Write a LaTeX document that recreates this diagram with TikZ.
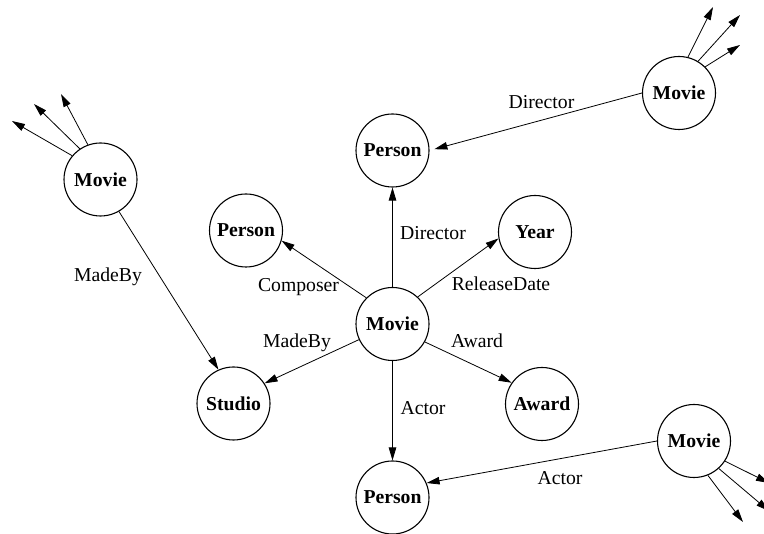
\documentclass[tikz,border=0pt]{standalone}
\usepackage{fontspec}
\setmainfont{Liberation Serif}
\usetikzlibrary{arrows.meta}

\begin{document}
\begin{tikzpicture}[
  x=1pt,y=-1pt,
  obj/.style={draw,circle,line width=1.1pt,minimum size=73pt,inner sep=0pt,font=\fontsize{19.7}{22}\selectfont\bfseries},
  lbl/.style={anchor=base,inner sep=0pt,font=\fontsize{19.7}{22}\selectfont},
  rel/.style={-{Triangle[length=13pt,width=7.5pt]},line width=0.8pt}
]
  \useasboundingbox (0,0) rectangle (764,534);
  % the movie in the middle and what it points to
  \node[obj] (movie) at (392.5,324) {Movie};
  \node[obj] (dir) at (392.5,150.5) {Person};
  \node[obj] (comp) at (246,230.5) {Person};
  \node[obj] (year) at (535,232) {Year};
  \node[obj] (studio) at (233.5,403.5) {Studio};
  \node[obj] (award) at (542,404) {Award};
  \node[obj] (actor) at (392.5,497.5) {Person};
  % the other movies
  \node[obj] (mleft) at (100.5,179.5) {Movie};
  \node[obj] (mtop) at (679,93) {Movie};
  \node[obj] (mbot) at (694,441) {Movie};
  % loose ends of the stub arrows
  \coordinate (l1) at (12,121); \coordinate (l2) at (34,104); \coordinate (l3) at (61,94);
  \coordinate (t1) at (713,7); \coordinate (t2) at (740,15); \coordinate (t3) at (740,45);
  \coordinate (b1) at (769,483); \coordinate (b2) at (769,511); \coordinate (b3) at (743,522);

  \draw[rel] (movie) -- (dir);
  \draw[rel] (movie.135) -- (comp.-16);
  \draw[rel] (movie.47) -- (year.190);
  \draw[rel] (movie.205) -- (studio.33);
  \draw[rel] (movie.-29) -- (award.145);
  \draw[rel] (movie) -- (actor);
  \draw[rel] (mleft.-60) -- (studio.114);
  \draw[rel,shorten >=5pt] (mtop.west) -- (dir.east);
  \draw[rel] (mbot.west) -- (actor.23);
  \draw[rel] (mleft.140) -- (l1); \draw[rel] (mleft.124) -- (l2); \draw[rel] (mleft.110) -- (l3);
  \draw[rel] (mtop.76) -- (t1); \draw[rel] (mtop.59) -- (t2); \draw[rel] (mtop.45) -- (t3);
  \draw[rel] (mbot.-33) -- (b1); \draw[rel] (mbot.-48) -- (b2); \draw[rel] (mbot.-68) -- (b3);

  % edge labels
  \node[lbl] (ldir) at (433,239.3) {Director};
  \node[lbl] (lcomp) at (298.5,291.5) {Composer};
  \node[lbl] (lrel) at (501,291) {ReleaseDate};
  \node[lbl] (lmade) at (297,348) {MadeBy};
  \node[lbl] (laward) at (477,348) {Award};
  \node[lbl] (lactor) at (423,415) {Actor};
  \node[lbl] (lmadel) at (108,282) {MadeBy};
  \node[lbl] (ldirt) at (541.5,108.3) {Director};
  \node[lbl] (lactb) at (560,485) {Actor};
\end{tikzpicture}
\end{document}
